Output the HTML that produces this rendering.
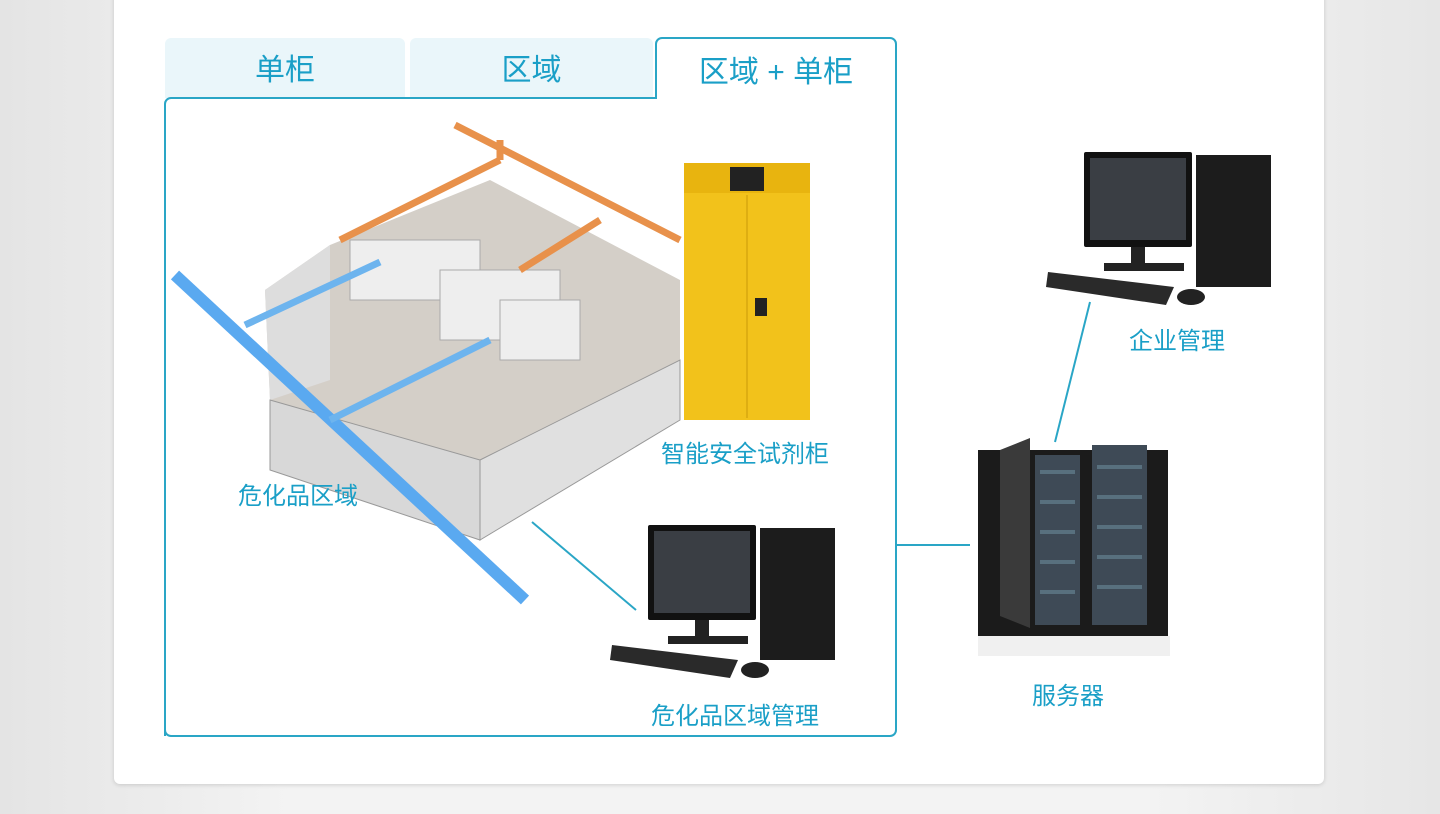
<!DOCTYPE html>
<html><head><meta charset="utf-8"><style>
html,body{margin:0;padding:0}
body{width:1440px;height:814px;background:linear-gradient(90deg,#e4e4e4,#f3f3f3 20%,#f3f3f3 80%,#e6e6e6);position:relative;overflow:hidden;font-family:"Liberation Sans","Noto Sans CJK SC",sans-serif}
.card{position:absolute;left:114px;top:-10px;width:1210px;height:794px;background:#fff;border-radius:6px;box-shadow:0 1px 4px rgba(0,0,0,.15)}
.tab{position:absolute;top:38px;height:60px;background:#eaf6fa;border-radius:6px 6px 0 0;color:#1a9fc7;font-size:30px;text-align:center;line-height:66px}
.lbl{position:absolute;color:#1a9fc7;font-size:24px;white-space:nowrap}
svg{position:absolute;left:0;top:0}
</style></head><body>
<div class="card"></div>
<div class="tab" style="left:165px;width:240px">单柜</div>
<div class="tab" style="left:410px;width:243px">区域</div>
<svg width="1440" height="814">
<path d="M165,736 V104 a6,6 0 0 1 6,-6 H656 V44 a6,6 0 0 1 6,-6 H890 a6,6 0 0 1 6,6 V730 a6,6 0 0 1 -6,6 H171 a6,6 0 0 1 -6,-6Z" fill="#fff" stroke="#2aa6c6" stroke-width="2"/>
<polygon points="265,290 330,245 490,180 680,280 680,360 540,470 480,540 270,400" fill="#c9c3ba" opacity=".8"/>
<polygon points="265,290 330,245 330,380 270,400" fill="#ddd"/>
<polygon points="480,460 680,360 680,420 480,540" fill="#e0e0e0" stroke="#999"/>
<polygon points="270,400 480,460 480,540 270,470" fill="#d8d8d8" stroke="#999"/>
<g fill="#eee" stroke="#aaa">
<rect x="350" y="240" width="130" height="60"/><rect x="440" y="270" width="120" height="70"/><rect x="500" y="300" width="80" height="60"/>
</g>
<path d="M340,240 L500,160 M455,125 L680,240 M500,160 V140 M600,220 L520,270" stroke="#e8914b" stroke-width="7" fill="none"/>
<path d="M175,275 L525,600" stroke="#5aa9f0" stroke-width="12"/>
<path d="M245,325 L380,262 M330,420 L490,340" stroke="#6db4ee" stroke-width="7"/>
<rect x="684" y="163" width="126" height="257" fill="#f2c21b"/>
<rect x="684" y="163" width="126" height="30" fill="#e8b40f"/>
<rect x="730" y="167" width="34" height="24" fill="#222"/>
<line x1="747" y1="195" x2="747" y2="418" stroke="#c99a0a"/>
<rect x="755" y="298" width="12" height="18" fill="#222"/>
<g id="pc">
<rect x="648" y="525" width="108" height="95" fill="#111" rx="2"/><rect x="654" y="531" width="96" height="82" fill="#3a3e44"/>
<rect x="695" y="620" width="14" height="18" fill="#222"/><rect x="668" y="636" width="80" height="8" fill="#222"/>
<rect x="760" y="528" width="75" height="132" fill="#1c1c1c"/>
<polygon points="612,645 738,660 730,678 610,660" fill="#2a2a2a"/>
<ellipse cx="755" cy="670" rx="14" ry="8" fill="#222"/>
</g>
<use href="#pc" transform="translate(436,-373)"/>
<rect x="978" y="450" width="190" height="190" fill="#1b1b1b"/>
<polygon points="1000,450 1030,438 1030,628 1000,616" fill="#3a3a3a"/>
<g fill="#3e4a56"><rect x="1035" y="455" width="45" height="170"/><rect x="1092" y="445" width="55" height="180"/></g>
<g fill="#6a8a9a" opacity=".6"><rect x="1040" y="470" width="35" height="4"/><rect x="1040" y="500" width="35" height="4"/><rect x="1040" y="530" width="35" height="4"/><rect x="1040" y="560" width="35" height="4"/><rect x="1040" y="590" width="35" height="4"/><rect x="1097" y="465" width="45" height="4"/><rect x="1097" y="495" width="45" height="4"/><rect x="1097" y="525" width="45" height="4"/><rect x="1097" y="555" width="45" height="4"/><rect x="1097" y="585" width="45" height="4"/></g>
<rect x="978" y="636" width="192" height="20" fill="#f0f0f0"/>
<g stroke="#2aa6c6" stroke-width="2"><line x1="532" y1="522" x2="636" y2="610"/><line x1="896" y1="545" x2="970" y2="545"/><line x1="1090" y1="302" x2="1055" y2="442"/></g>
</svg>
<div class="tab" style="left:656px;top:40px;width:240px;background:none">区域 + 单柜</div>
<div class="lbl" style="left:661px;top:434px">智能安全试剂柜</div>
<div class="lbl" style="left:238px;top:476px">危化品区域</div>
<div class="lbl" style="left:651px;top:696px">危化品区域管理</div>
<div class="lbl" style="left:1129px;top:321px">企业管理</div>
<div class="lbl" style="left:1032px;top:676px">服务器</div>
</body></html>
